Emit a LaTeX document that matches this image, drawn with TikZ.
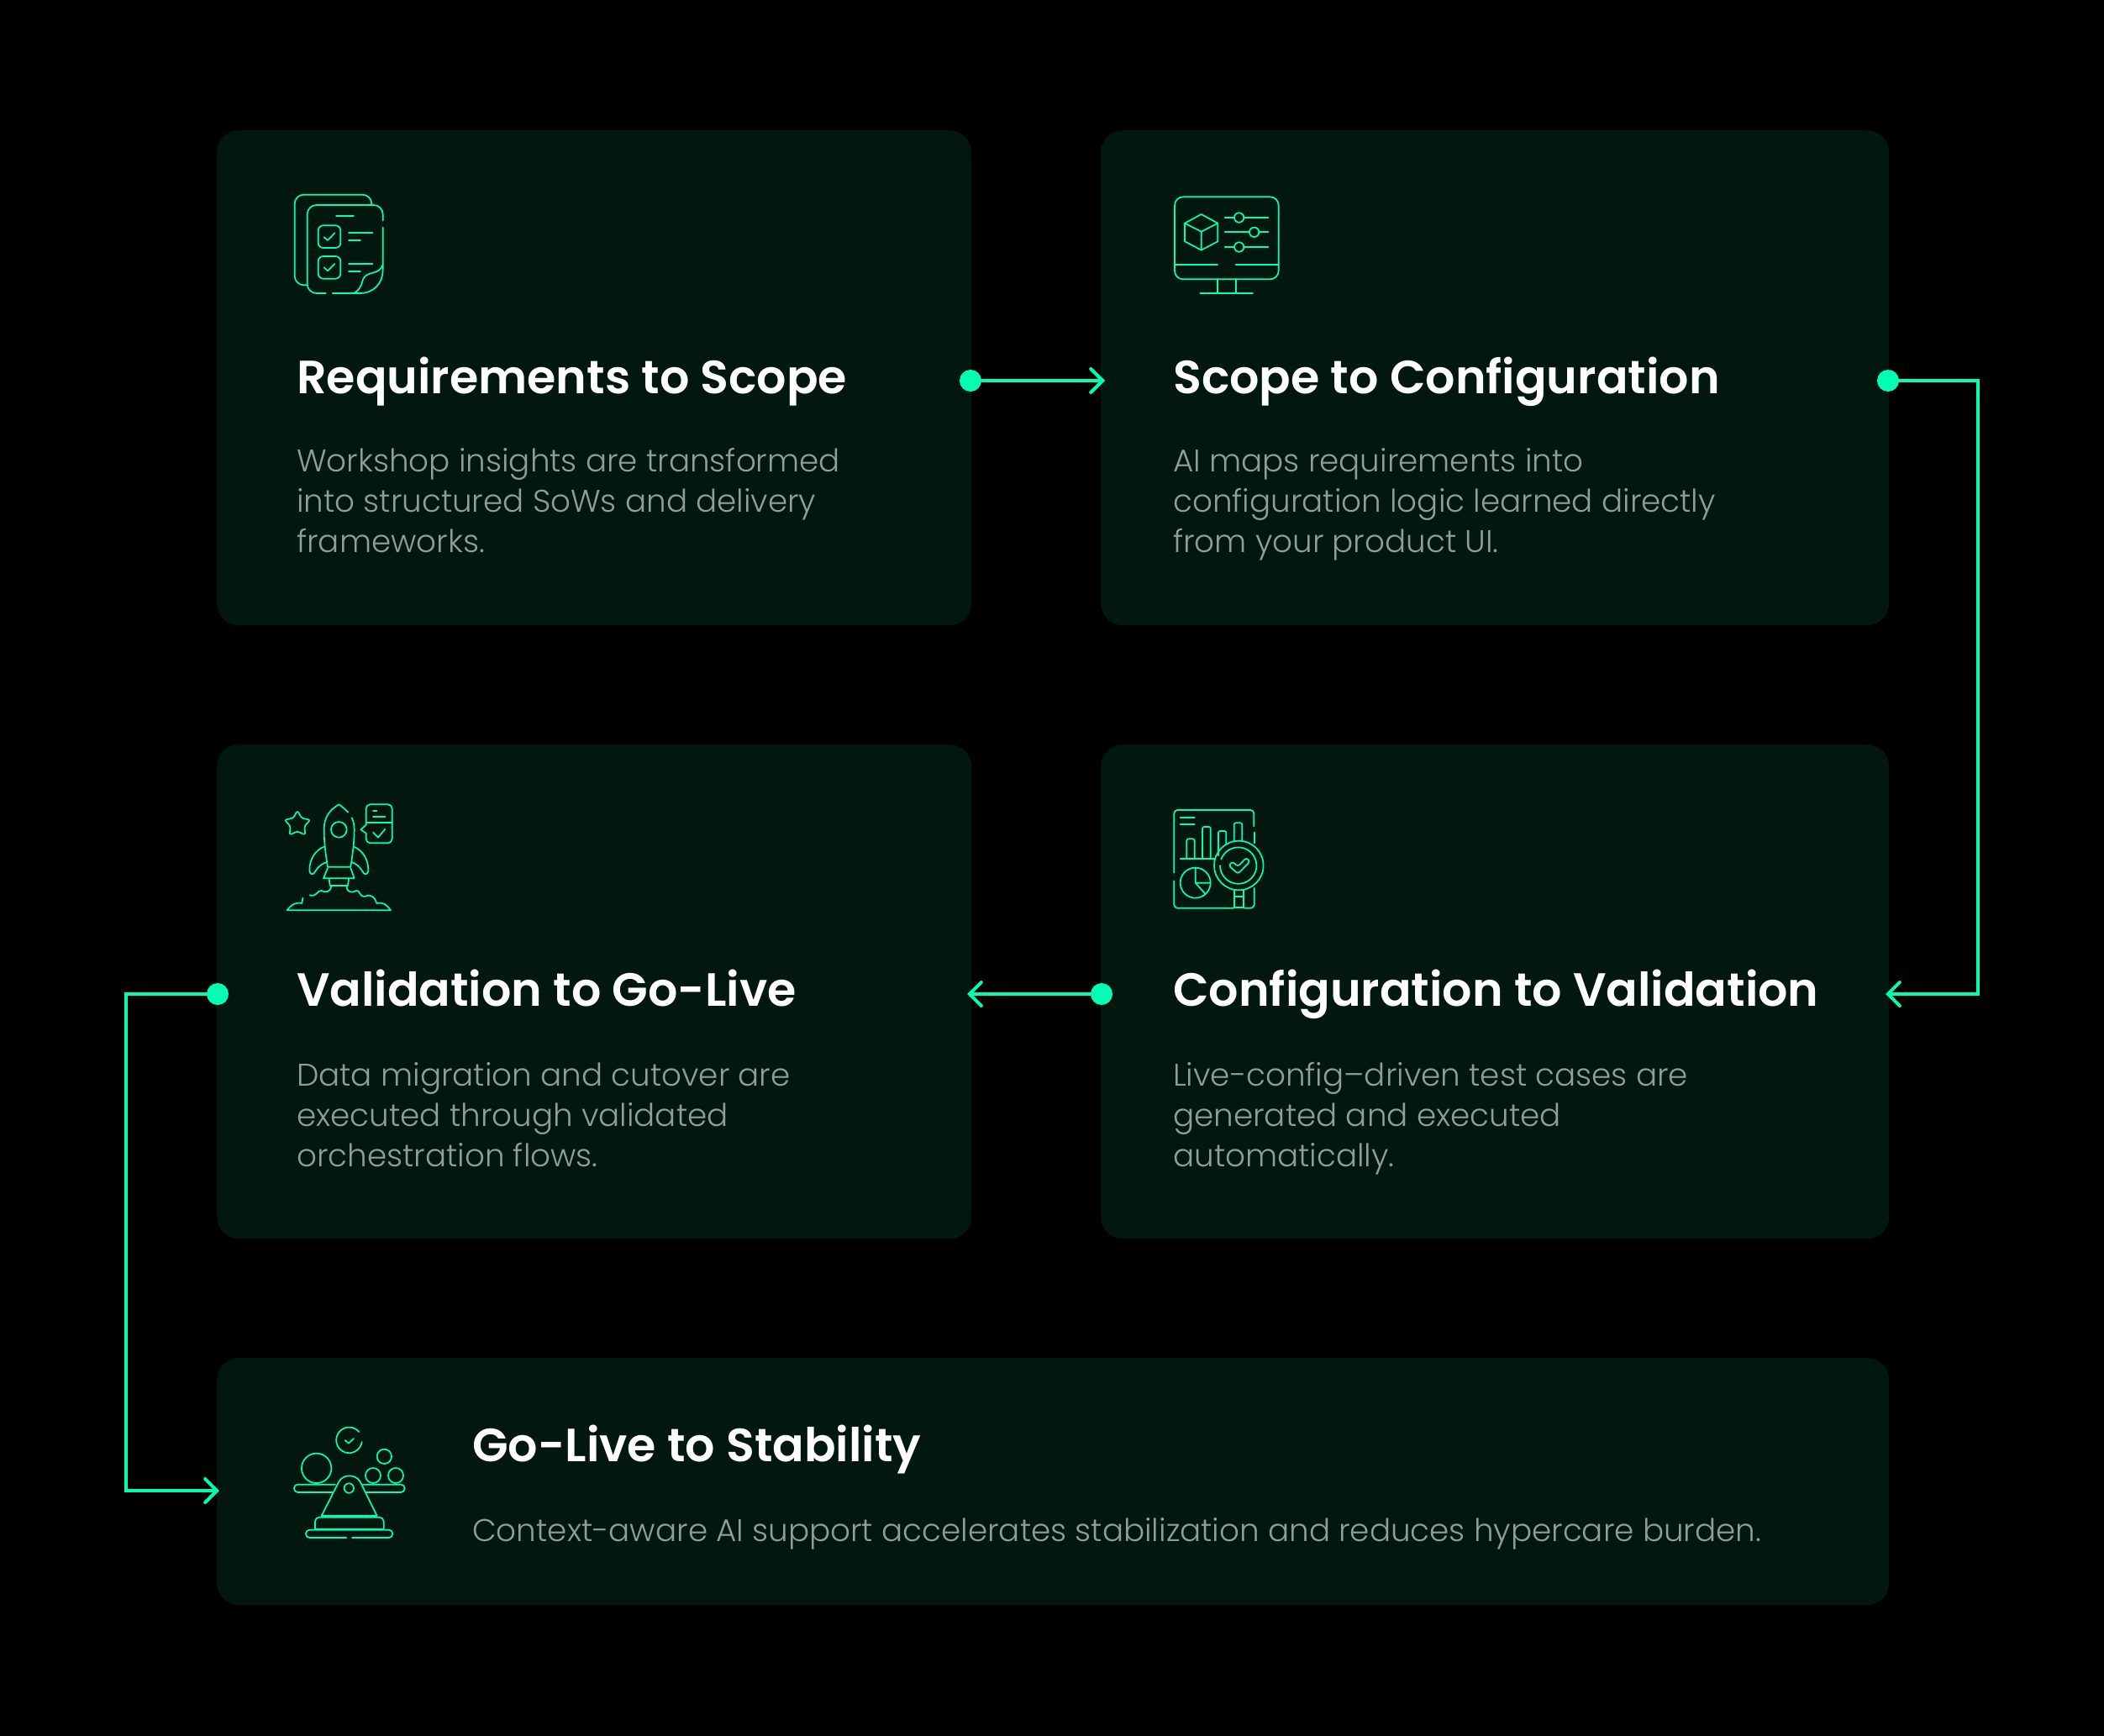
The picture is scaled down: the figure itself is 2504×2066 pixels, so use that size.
\documentclass[tikz,border=0pt]{standalone}
\usepackage{fontspec}
\usetikzlibrary{arrows.meta}
\setmainfont{Poppins}
\newfontfamily\ttlfont{Poppins SemiBold}
\newfontfamily\bodyfont{Poppins Light}
\definecolor{accent}{HTML}{00FFB3}
\definecolor{cardbg}{HTML}{011710}
\definecolor{bodytxt}{HTML}{909E98}
\tikzset{
  card/.style={fill=cardbg,draw=none,rounded corners=26pt,inner sep=0pt,anchor=north west},
  title/.style={font=\ttlfont\fontsize{55.5}{60}\selectfont,text=white,anchor=base west,inner sep=0pt},
  body/.style={font=\bodyfont\fontsize{37.3}{48}\selectfont,text=bodytxt,anchor=north west,align=left,inner sep=0pt},
  dot/.style={circle,fill=accent,draw=none,minimum size=26pt,inner sep=0pt},
  conn/.style={draw=accent,line width=4pt,-{Straight Barb[length=14pt,width=28pt,line cap=round,line width=4pt]}},
  ico/.style={draw=accent,line width=1.7pt,line cap=round,line join=round},
  izoom/.style={x=0.33333pt,y=-0.33333pt}
}
\begin{document}
\begin{tikzpicture}[x=1pt,y=-1pt]
\useasboundingbox (0,0) rectangle (2504,2066);
\fill[black] (0,0) rectangle (2504,2066);
% cards
\node[card,minimum width=898pt,minimum height=589pt] (c1) at (258,155) {};
\node[card,minimum width=938pt,minimum height=589pt] (c2) at (1310,155) {};
\node[card,minimum width=938pt,minimum height=588pt] (c3) at (1310,886) {};
\node[card,minimum width=898pt,minimum height=588pt] (c4) at (258,886) {};
\node[card,minimum width=1990pt,minimum height=294pt] (c5) at (258,1616) {};
% titles
\node[title] (t1) at (353,468) {Requirements to Scope};
\node[title] (t2) at (1396,468) {Scope to Configuration};
\node[title] (t3) at (1396,1197) {Configuration to Validation};
\node[title] (t4) at (353,1197) {Validation to Go-Live};
\node[title] (t5) at (562,1739) {Go-Live to Stability};
% bodies
\node[body] (b1) at (353,533) {Workshop insights are transformed\\into structured SoWs and delivery\\frameworks.};
\node[body] (b2) at (1396,533) {AI maps requirements into\\configuration logic learned directly\\from your product UI.};
\node[body] (b3) at (1396,1264) {Live-config–driven test cases are\\generated and executed\\automatically.};
\node[body] (b4) at (353,1264) {Data migration and cutover are\\executed through validated\\orchestration flows.};
\node[body] (b5) at (562,1806) {Context-aware AI support accelerates stabilization and reduces hypercare burden.};
% connectors
\node[dot] (d1) at (1155,453) {};
\node[dot] (d2) at (2247,453) {};
\node[dot] (d3) at (1311,1183) {};
\node[dot] (d4) at (259,1183) {};
\coordinate (e1) at (1315,453);
\coordinate (e2) at (2244,1183);
\coordinate (e3) at (1151,1183);
\coordinate (e4) at (261,1774);
\path[conn] (d1.center) -- (e1);
\path[conn] (d2.center) -- (2354,453) -- (2354,1183) -- (e2);
\path[conn] (d3.center) -- (e3);
\path[conn] (d4.center) -- (150,1183) -- (150,1774) -- (e4);
% icon 1
\begin{scope}[shift={(320,200)},izoom]
\draw[ico,rounded corners=11pt] (135,418) -- (92,418) -- (92,95) -- (367,95) -- (367,130);
\draw[ico,rounded corners=11pt] (407,188) -- (407,132) -- (137,132) -- (137,447) -- (203,447);
\draw[ico] (227,447) -- (325,447) .. controls (375,447) and (407,410) .. (407,365) -- (407,212);
\draw[ico] (407,345) .. controls (395,385) and (345,365) .. (335,400) .. controls (330,425) and (318,440) .. (303,447);
\draw[ico] (240,172) -- (303,172);
\draw[ico,rounded corners=6pt] (176,205) rectangle (256,285);
\draw[ico] (197,247) -- (210,258) -- (235,232);
\draw[ico] (285,232) -- (370,232) (285,259) -- (327,259);
\draw[ico,rounded corners=6pt] (176,315) rectangle (256,395);
\draw[ico] (197,355) -- (210,367) -- (235,342);
\draw[ico] (285,341) -- (370,341) (285,368) -- (327,368);
\end{scope}
% icon 2
\begin{scope}[shift={(1370,210)},izoom]
\draw[ico,rounded corners=10pt] (84,73) rectangle (455,367);
\draw[ico] (84,315) -- (237,315) (302,315) -- (455,315);
\draw[ico] (236,367) -- (236,417) (302,367) -- (302,417) (175,418) -- (363,418);
\draw[ico] (179,135) -- (238,167) -- (179,197) -- (120,167) -- cycle;
\draw[ico] (120,167) -- (120,232) -- (179,263) -- (238,232) -- (238,167) (179,197) -- (179,263);
\draw[ico] (263,147) -- (297,147) (331,147) -- (418,147);
\draw[ico] (314,147) circle[radius=5.7pt];
\draw[ico] (263,199) -- (351,199) (385,199) -- (418,199);
\draw[ico] (368,199) circle[radius=5.7pt];
\draw[ico] (263,252) -- (297,252) (331,252) -- (418,252);
\draw[ico] (314,252) circle[radius=5.7pt];
\end{scope}
% icon 3
\begin{scope}[shift={(320,940)},izoom]
\draw[ico] (283,80) .. controls (270,68) and (260,58) .. (250,52) .. controls (220,70) and (197,95) .. (197,140) .. controls (197,190) and (203,230) .. (210,275) -- (292,275) .. controls (298,235) and (305,190) .. (305,140) .. controls (305,125) and (302,112) .. (296,100);
\draw[ico] (250,142) circle[radius=9.3pt];
\draw[ico] (197,203) .. controls (165,215) and (145,250) .. (145,285) .. controls (145,305) and (160,305) .. (165,292) .. controls (175,275) and (190,262) .. (208,258);
\draw[ico] (303,203) .. controls (335,215) and (355,250) .. (355,285) .. controls (355,305) and (340,305) .. (335,292) .. controls (325,275) and (310,262) .. (295,258);
\draw[ico] (210,279) -- (195,316) -- (305,316) -- (292,279);
\draw[ico] (215,318) -- (218,342) -- (282,342) -- (285,318);
\draw[ico] (222,345) .. controls (222,365) and (200,368) .. (188,360) .. controls (175,355) and (172,385) .. (145,376);
\draw[ico] (278,345) .. controls (278,368) and (300,368) .. (312,360) .. controls (325,355) and (322,385) .. (345,380) .. controls (365,370) and (380,385) .. (385,405) .. controls (410,400) and (420,410) .. (435,430) -- (65,430) .. controls (80,410) and (95,400) .. (118,405) -- (121,386);
\draw[ico,rounded corners=2.5pt] (102,74) -- (117,101) -- (148,107) -- (127,130) -- (130,161) -- (102,148) -- (74,161) -- (77,130) -- (56,107) -- (87,101) -- cycle;
\draw[ico,rounded corners=5pt] (347,125) -- (347,52) -- (440,52) -- (440,190) -- (347,190) -- (347,155);
\draw[ico] (347,125) -- (328,142) -- (347,155);
\draw[ico] (347,117) -- (440,117);
\draw[ico] (372,74) -- (385,74) (372,96) -- (415,96);
\draw[ico] (372,152) -- (390,170) -- (415,140);
\end{scope}
% icon 4
\begin{scope}[shift={(1370,950)},izoom]
\draw[ico,rounded corners=4pt] (367,100) -- (367,42) -- (82,42) -- (82,265);
\draw[ico,rounded corners=4pt] (82,295) -- (82,392) -- (295,392);
\draw[ico,rounded corners=4pt] (332,392) -- (368,392) -- (368,320);
\draw[ico] (368,122) -- (368,160);
\draw[ico] (104,69) -- (155,69) (104,93) -- (155,93);
\draw[ico] (104,215) -- (228,215);
\draw[ico,rounded corners=2pt] (127,215) -- (127,145) -- (155,145) -- (155,215);
\draw[ico,rounded corners=2pt] (183,215) -- (183,102) -- (212,102) -- (212,215);
\draw[ico,rounded corners=2pt] (240,205) -- (240,117) -- (268,117) -- (268,165);
\draw[ico,rounded corners=2pt] (296,152) -- (296,88) -- (325,88) -- (325,152);
\draw[ico] (158,302) circle[radius=18pt];
\draw[ico] (158,250) -- (158,302) -- (212,302) (158,302) -- (192,340);
\draw[ico] (313,240) circle[radius=29.3pt];
\draw[ico] (250,218) arc[start angle=160,end angle=-180,radius=21.7pt];
\draw[ico,rounded corners=3pt] (277,240) -- (290,226) -- (310,244) -- (340,212) -- (353,226) -- (310,270) -- cycle;
\draw[ico] (297,328) -- (297,390) -- (330,390) -- (330,328) (297,350) -- (330,350);
\end{scope}
% icon 5
\begin{scope}[shift={(330,1680)},izoom]
\draw[ico] (302,108) arc[start angle=-8,end angle=-320,radius=15.3pt];
\draw[ico] (242,102) -- (255,113) -- (273,96);
\draw[ico] (140,202) circle[radius=17.7pt];
\draw[ico] (382,160) circle[radius=8.7pt];
\draw[ico] (342,228) circle[radius=9pt];
\draw[ico] (423,228) circle[radius=9pt];
\draw[ico,rounded corners=4.5pt] (207,260) -- (60,260) -- (60,288) -- (197,288);
\draw[ico,rounded corners=4.5pt] (305,260) -- (455,260) -- (455,288) -- (318,288);
\draw[ico] (158,372) -- (220,250) .. controls (235,222) and (280,222) .. (296,250) -- (356,372) -- cycle;
\draw[ico] (256,273) circle[radius=5.7pt];
\draw[ico,rounded corners=5pt] (135,417) -- (135,377) -- (380,377) -- (380,417);
\draw[ico] (135,418) -- (380,418);
\draw[ico,rounded corners=4.5pt] (247,450) -- (102,450) -- (102,422) -- (412,422) -- (412,450) -- (267,450);
\end{scope}
\end{tikzpicture}
\end{document}
